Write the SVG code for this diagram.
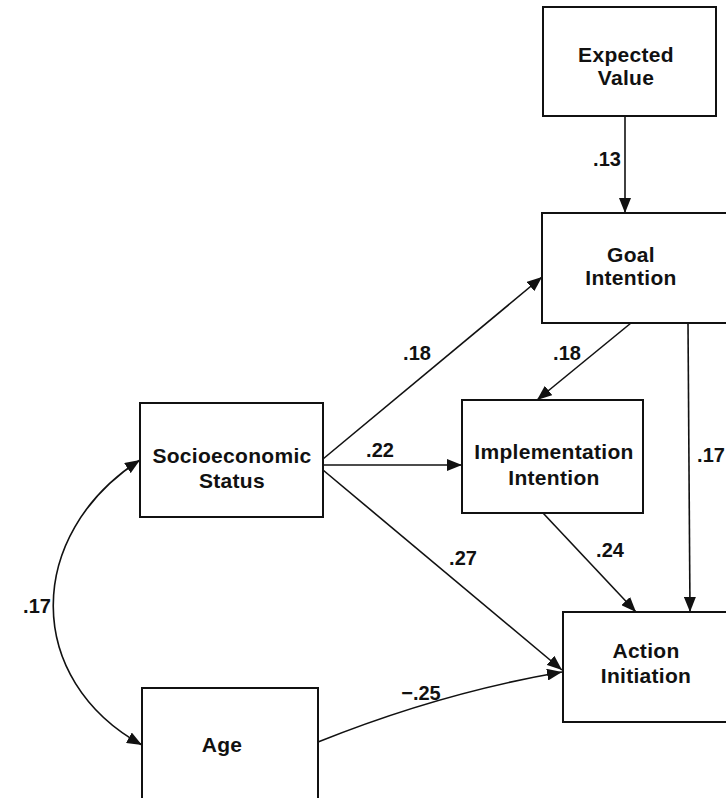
<svg xmlns="http://www.w3.org/2000/svg" width="726" height="798" viewBox="0 0 726 798">
<style>
.box{fill:#fff;stroke:#111;stroke-width:2}
.lbl{font-family:"Liberation Sans",Arial,sans-serif;font-weight:bold;font-size:21px;fill:#111;text-anchor:middle;letter-spacing:0.3px}
.num{font-family:"Liberation Sans",Arial,sans-serif;font-weight:bold;font-size:20px;fill:#111;text-anchor:middle}
.edge{fill:none;stroke:#111;stroke-width:1.6}
</style>
<defs>
<marker id="ah" markerUnits="userSpaceOnUse" markerWidth="16" markerHeight="12" refX="15" refY="6" orient="auto-start-reverse">
<path d="M0,0 L15,6 L0,12 z" fill="#111"/>
</marker>
</defs>
<rect width="726" height="798" fill="#fff"/>
<g id="connectors">
<path class="edge" d="M625,116 L625,213" marker-end="url(#ah)"/>
<path class="edge" d="M323,459 L542,277" marker-end="url(#ah)"/>
<path class="edge" d="M323,465 L462,465" marker-end="url(#ah)"/>
<path class="edge" d="M323,470 L562,670" marker-end="url(#ah)"/>
<path class="edge" d="M318,742 Q440,693 562,672" marker-end="url(#ah)"/>
<path class="edge" d="M631,323 L537,400" marker-end="url(#ah)"/>
<path class="edge" d="M543,513 L636,612" marker-end="url(#ah)"/>
<path class="edge" d="M688,323 L690,612" marker-end="url(#ah)"/>
<path class="edge" d="M140,460 C24,535 24,680 142,745" marker-start="url(#ah)" marker-end="url(#ah)"/>
<text class="num" x="607" y="166">.13</text>
<text class="num" x="417" y="360">.18</text>
<text class="num" x="567" y="360">.18</text>
<text class="num" x="380" y="457">.22</text>
<text class="num" x="711" y="462">.17</text>
<text class="num" x="463" y="565">.27</text>
<text class="num" x="610" y="557">.24</text>
<text class="num" x="37" y="613">.17</text>
<text class="num" x="421" y="700">−.25</text>
</g>
<g id="expected-value">
<rect class="box" x="543" y="7" width="173" height="109"/>
<text class="lbl" x="626" y="62">Expected</text>
<text class="lbl" x="626" y="85">Value</text>
</g>
<g id="goal-intention">
<rect class="box" x="542" y="213" width="190" height="110"/>
<text class="lbl" x="631" y="262">Goal</text>
<text class="lbl" x="631" y="285">Intention</text>
</g>
<g id="implementation-intention">
<rect class="box" x="462" y="400" width="181" height="113"/>
<text class="lbl" x="554" y="459">Implementation</text>
<text class="lbl" x="554" y="485">Intention</text>
</g>
<g id="socioeconomic-status">
<rect class="box" x="140" y="403" width="183" height="114"/>
<text class="lbl" x="232" y="463">Socioeconomic</text>
<text class="lbl" x="232" y="488">Status</text>
</g>
<g id="age">
<rect class="box" x="142" y="688" width="176" height="120"/>
<text class="lbl" x="222" y="752">Age</text>
</g>
<g id="action-initiation">
<rect class="box" x="563" y="612" width="170" height="110"/>
<text class="lbl" x="646" y="658">Action</text>
<text class="lbl" x="646" y="683">Initiation</text>
</g>
</svg>
